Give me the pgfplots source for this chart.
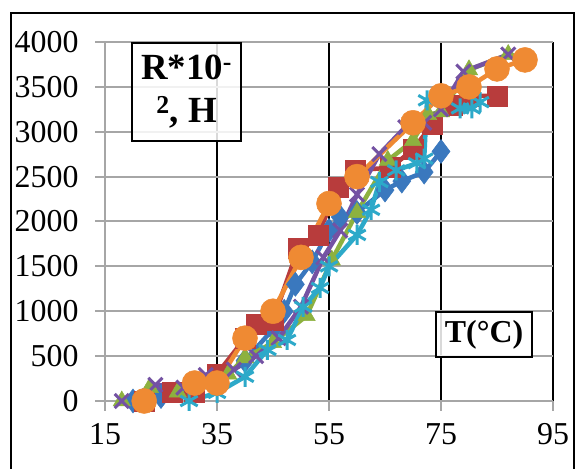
\documentclass[border=0pt]{standalone}
\usepackage{fontspec}
\setmainfont{Liberation Serif}
\usepackage{pgfplots}
\pgfplotsset{compat=1.18}
\definecolor{sBlue}{HTML}{3A78BE}
\definecolor{sRed}{HTML}{B83C3C}
\definecolor{sGreen}{HTML}{8DB13F}
\definecolor{sPurple}{HTML}{7452A3}
\definecolor{sCyan}{HTML}{2DA9C9}
\definecolor{sOrange}{HTML}{EF8A33}
\definecolor{gridgray}{HTML}{A6A6A6}
\begin{document}
\begin{tikzpicture}[x=1bp,y=1bp]
\useasboundingbox (0,0) rectangle (576,469);
\fill[white] (0,0) rectangle (576,469);
\draw[line width=1.5bp] (11,-2) rectangle (574,456);
\begin{axis}[
  at={(105bp,68bp)}, anchor=south west,
  scale only axis, width=448bp, height=359bp,
  xmin=15, xmax=95, ymin=0, ymax=4000,
  xtick={15,35,55,75,95},
  ytick={0,500,...,4000},
  axis x line*=bottom, axis y line*=left,
  axis line style={gridgray, line width=2bp},
  tick align=outside,
  major tick length=10bp,
  tick style={gridgray, line width=2bp},
  xmajorgrids, ymajorgrids,
  x grid style={black, line width=2bp},
  y grid style={gridgray, line width=2bp},
  /pgf/number format/assume math mode=true,
  /pgf/number format/1000 sep={},
  ticklabel style={font=\fontsize{32}{32}\selectfont},
  xticklabel style={yshift=-9bp},
  yticklabel style={xshift=-13bp},
  clip=false,
  every axis plot/.append style={line width=4.5bp},
]
\addplot[sBlue, mark=diamond*, mark size=12bp, mark options={line width=0.5bp}] coordinates {
(20,0)(25,50)(30,100)(35,200)(40,450)(45,800)(47,1000)(49,1300)(52,1550)(55,1900)(57,2050)(60,2100)(65,2350)(68,2450)(72,2550)(75,2780)};
\addplot[sRed, mark=square*, mark size=10bp, mark options={line width=0.5bp}] coordinates {
(22,0)(27,100)(31,100)(35,300)(40,700)(42,850)(45,900)(49.5,1700)(53,1850)(56.6,2380)(59.6,2570)(66,2600)(70,2800)(73.4,3080)(77,3300)(80,3400)(85,3400)};
\addplot[sGreen, mark=triangle*, mark size=10bp, mark options={line width=0.5bp}] coordinates {
(18,0)(23,150)(28,100)(33,200)(37,300)(40,480)(45,650)(51,950)(55.5,1570)(60,2100)(65.5,2680)(70,2900)(72.7,3190)(75,3220)(80,3690)(87,3860)(90,3800)};
\addplot[sPurple, mark=x, mark size=10bp, mark options={line width=3bp}] coordinates {
(18,0)(24,180)(29,150)(33,290)(38,350)(42,500)(46,700)(50,1050)(54,1600)(57,1900)(60,2300)(64,2750)(68.6,3050)(72,3100)(75,3250)(79,3670)(87,3860)(90,3800)};
\addplot[sCyan, mark=asterisk, mark size=10bp, mark options={line width=3bp}] coordinates {
(30,0)(35,90)(40,270)(44,570)(47.5,680)(50.4,1050)(53.4,1260)(55,1500)(60,1850)(62.5,2130)(64,2440)(67,2570)(70.7,2650)(72,2700)(72.5,3350)(78.4,3260)(80.5,3260)(82,3330)};
\addplot[sOrange, mark=*, mark size=12.5bp, mark options={line width=0.5bp}] coordinates {
(22,0)(31,200)(35,200)(40,700)(45,1000)(50,1600)(55,2200)(60,2500)(70,3100)(75,3400)(80,3500)(85,3700)(90,3800)};
\end{axis}
\node[draw, line width=2bp, fill=white, fill opacity=0.85, text opacity=1,
  minimum width=109bp, minimum height=98bp, inner sep=0pt, align=center,
  font=\bfseries\fontsize{37}{43}\selectfont] at (186.5,377) {R*10\textsuperscript{-}\\\textsuperscript{2}, H};
\node[draw, line width=2bp, fill=white, fill opacity=0.85, text opacity=1,
  minimum width=96bp, minimum height=45bp, inner sep=0pt,
  font=\bfseries\fontsize{32}{32}\selectfont] at (484,134.5) {T(°C)};
\end{tikzpicture}
\end{document}
